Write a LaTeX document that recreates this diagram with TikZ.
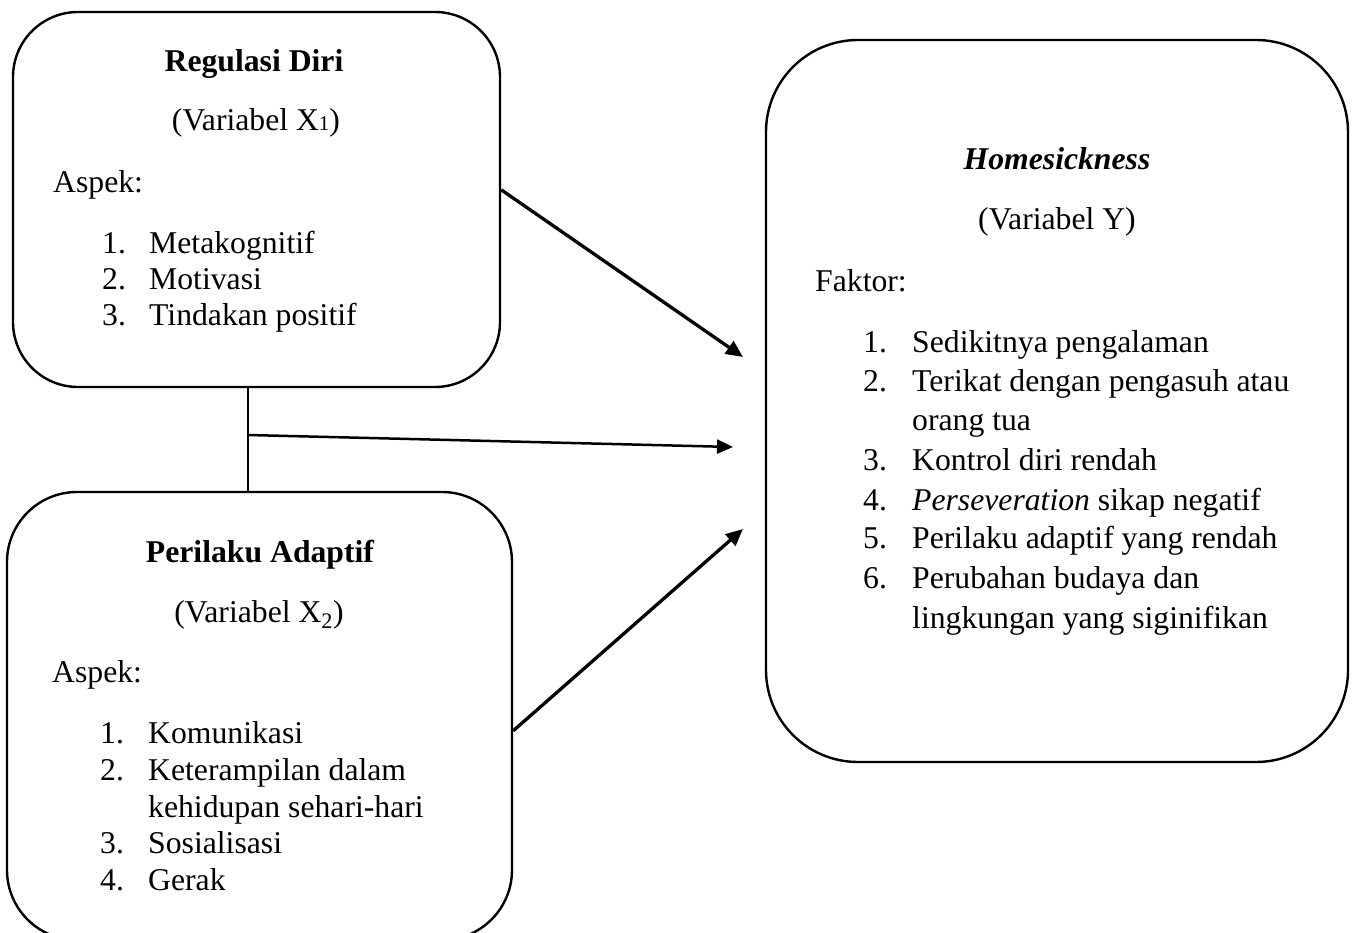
\documentclass[tikz,border=0pt]{standalone}
\usepackage{fontspec}
\setmainfont{Liberation Serif}
\usetikzlibrary{arrows.meta,calc}
\begin{document}
\begin{tikzpicture}[x=1pt,y=-1pt,
  box/.style={draw,line width=2.4pt,inner sep=0pt},
  txt/.style={inner sep=0pt,font=\fontsize{31.7}{37}\selectfont},
  lft/.style={txt,anchor=base west},
  ctr/.style={txt,anchor=base},
  diag/.style={line width=3.3pt,-{Triangle[length=17pt,width=15pt]}},
  horiz/.style={line width=2.5pt,-{Triangle[length=16pt,width=14pt]}},
  link/.style={line width=2pt}]
\useasboundingbox (0,0) rectangle (1357,933);
% boxes
\node[box,rounded corners=65pt,minimum width=487pt,minimum height=375pt] (b1) at (256.5,199.5) {};
\node[box,rounded corners=70pt,minimum width=505pt,minimum height=448pt] (b2) at (259.5,716) {};
\node[box,rounded corners=92pt,minimum width=582pt,minimum height=722pt] (b3) at (1057,401) {};
% box 1 text
\node[ctr,font=\fontsize{31.7}{37}\selectfont\bfseries] (t1a) at (254,72) {Regulasi Diri};
\node[ctr] (t1b) at (256,131) {(Variabel X{\fontsize{21}{21}\selectfont 1})};
\node[lft] (t1c) at (53,193) {Aspek:};
\node[lft] (n11) at (102,254) {1.};
\node[lft] (i11) at (149,254) {Metakognitif};
\node[lft] (n12) at (102,290) {2.};
\node[lft] (i12) at (149,290) {Motivasi};
\node[lft] (n13) at (102,326) {3.};
\node[lft] (i13) at (149,326) {Tindakan positif};
% box 2 text
\node[ctr,font=\fontsize{31.7}{37}\selectfont\bfseries] (t2a) at (260,562) {Perilaku Adaptif};
\node[ctr] (t2b) at (259,622) {(Variabel X\textsubscript{2})};
\node[lft] (t2c) at (52,682) {Aspek:};
\node[lft] (n21) at (100,743) {1.};
\node[lft] (i21) at (148,743) {Komunikasi};
\node[lft] (n22) at (100,780) {2.};
\node[lft] (i22) at (148,780) {Keterampilan dalam};
\node[lft] (i22b) at (148,817) {kehidupan sehari-hari};
\node[lft] (n23) at (100,853) {3.};
\node[lft] (i23) at (148,853) {Sosialisasi};
\node[lft] (n24) at (100,890) {4.};
\node[lft] (i24) at (148,890) {Gerak};
% box 3 text
\node[ctr,font=\fontsize{31.7}{37}\selectfont\bfseries\itshape] (t3a) at (1057,170) {Homesickness};
\node[ctr] (t3b) at (1057,230) {(Variabel Y)};
\node[lft] (t3c) at (815,292) {Faktor:};
\node[lft] (n31) at (863,352) {1.};
\node[lft] (i31) at (912,352) {Sedikitnya pengalaman};
\node[lft] (n32) at (863,391) {2.};
\node[lft] (i32) at (912,391) {Terikat dengan pengasuh atau};
\node[lft] (i32b) at (912,430) {orang tua};
\node[lft] (n33) at (863,470) {3.};
\node[lft] (i33) at (912,470) {Kontrol diri rendah};
\node[lft] (n34) at (863,510) {4.};
\node[lft] (i34) at (912,510) {\textit{Perseveration} sikap negatif};
\node[lft] (n35) at (863,548) {5.};
\node[lft] (i35) at (912,548) {Perilaku adaptif yang rendah};
\node[lft] (n36) at (863,588) {6.};
\node[lft] (i36) at (912,588) {Perubahan budaya dan};
\node[lft] (i36b) at (912,628) {lingkungan yang siginifikan};
% connectors
\coordinate (s1) at ($(b1.north east)+(0,179)$);
\coordinate (e1) at (743,357);
\coordinate (j) at (248,435);
\coordinate (e2) at (733,447);
\coordinate (s3) at ($(b2.north east)+(0,240)$);
\coordinate (e3) at (743,529);
\draw[diag] (s1) -- (e1);
\draw[link] (j |- b1.south) -- (j |- b2.north);
\draw[horiz] (j) -- (e2);
\draw[diag] (s3) -- (e3);
\end{tikzpicture}
\end{document}
